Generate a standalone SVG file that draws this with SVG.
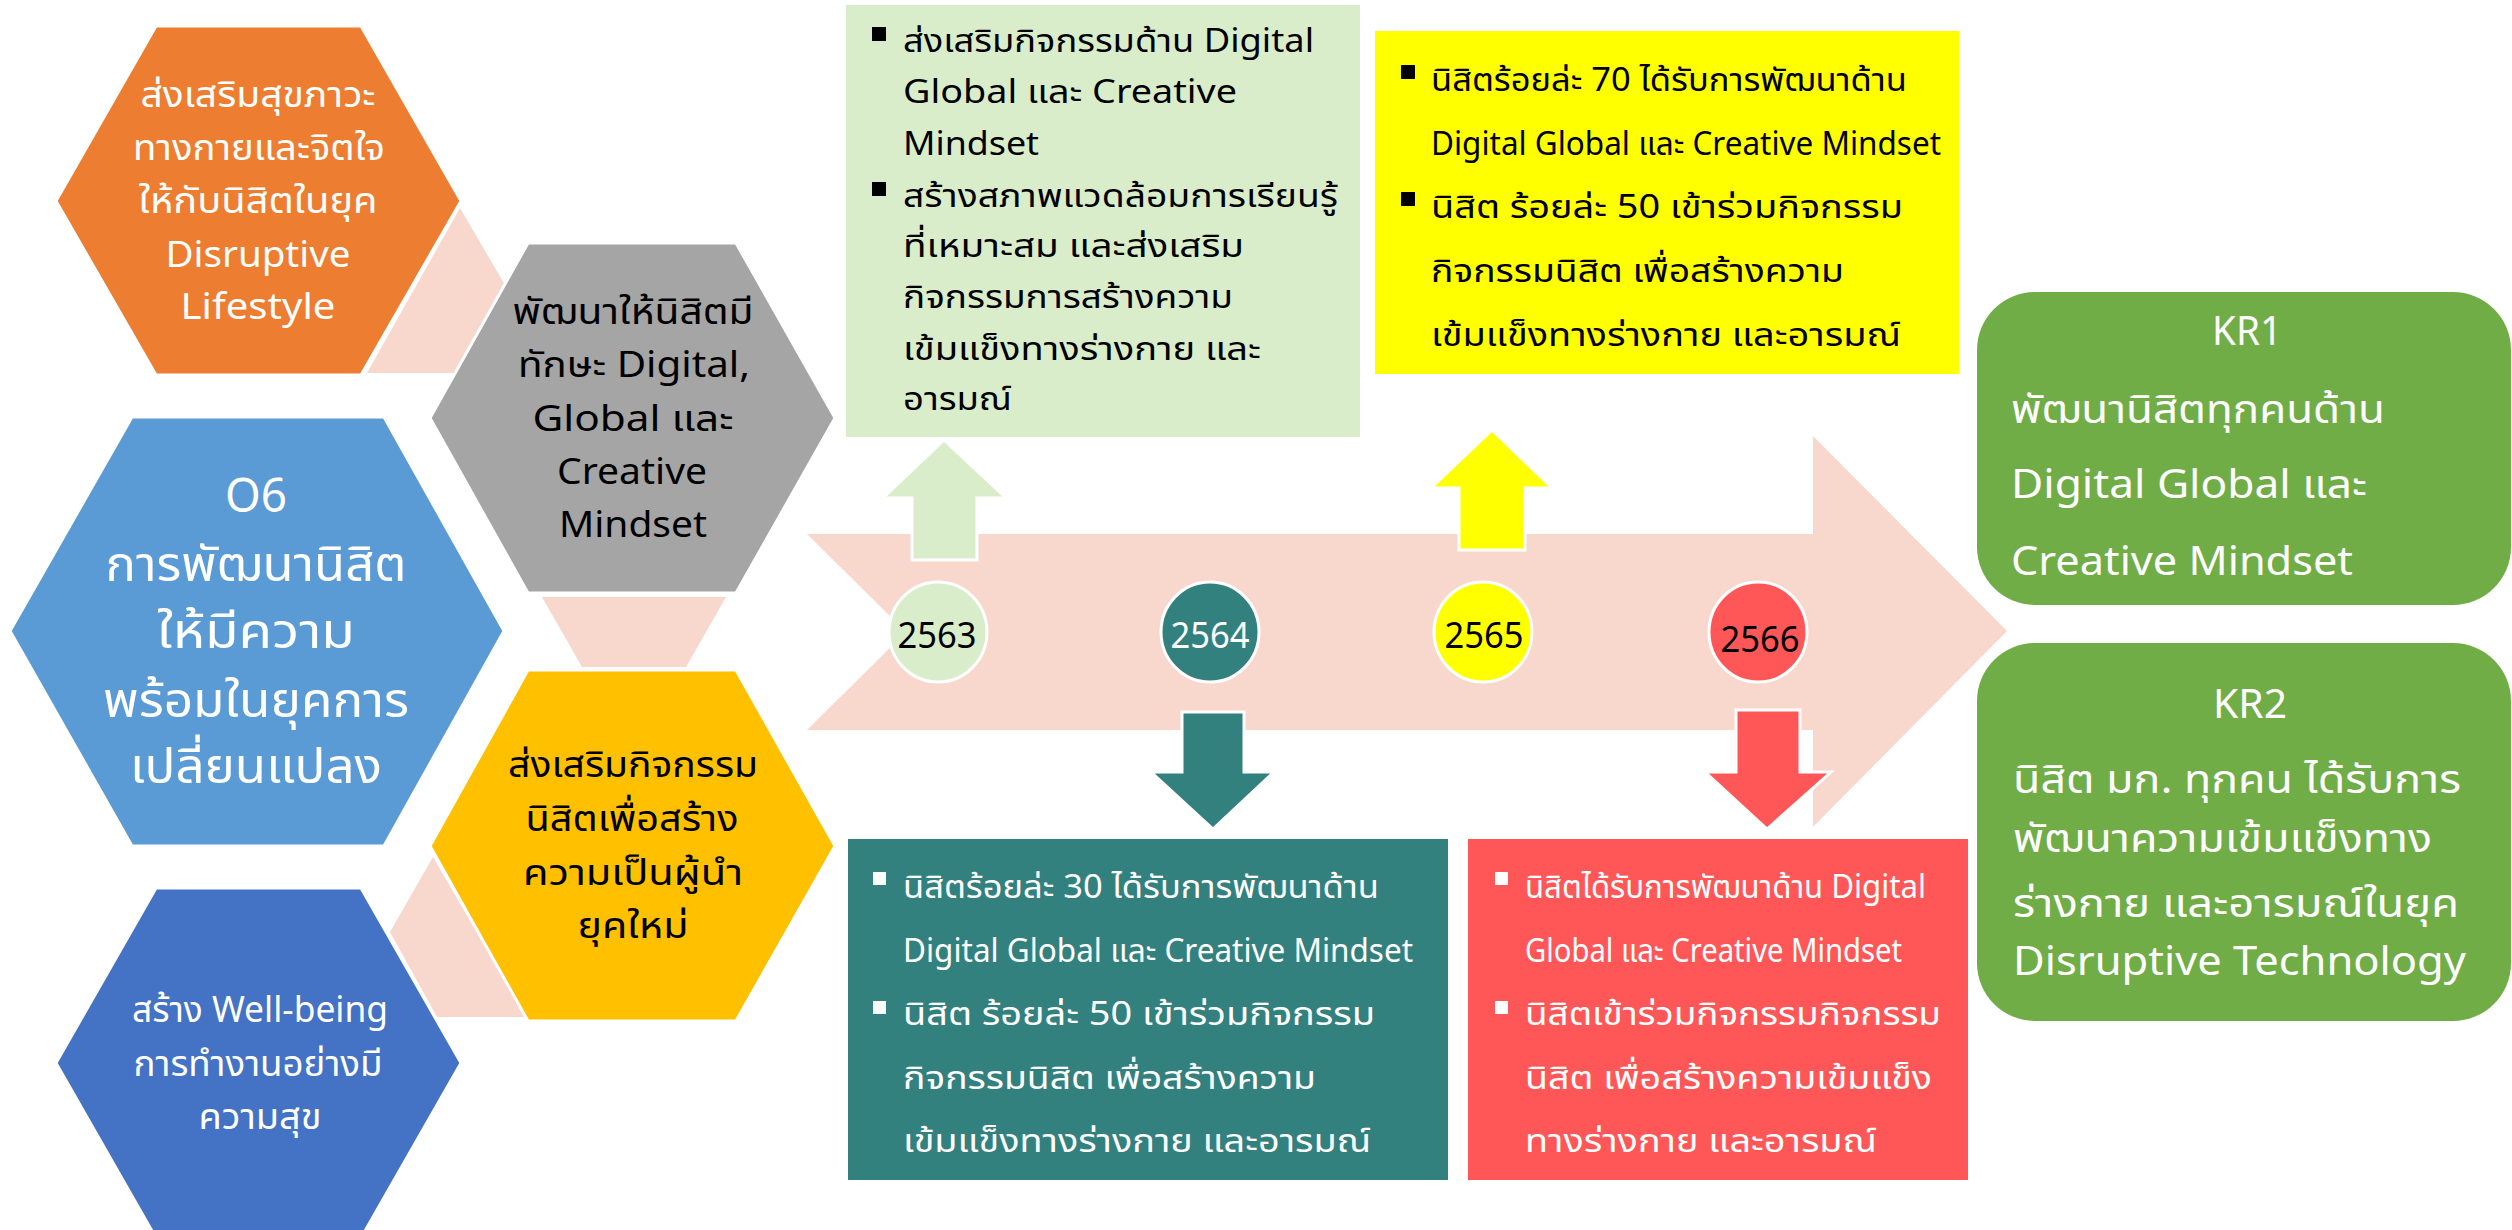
<svg xmlns="http://www.w3.org/2000/svg" width="2512" height="1230" viewBox="0 0 2512 1230">
<style>
text{font-family:"Noto Sans Thai","Noto Sans","DejaVu Sans",sans-serif;}
.hex{stroke:#fff;stroke-width:3;}
.pink{fill:#F8D7CD;}
.w{fill:#fff;}
.k{fill:#000;}
.c{text-anchor:middle;}
.h36{font-size:36px;}
.h48{font-size:48px;}
.b32{font-size:32px;}
.kr{font-size:40px;fill:#fff;}
.arr{stroke:#fff;stroke-width:3;}
.circ{stroke:#fff;stroke-width:3;}
</style>
<rect width="2512" height="1230" fill="#fff"/>

<g id="connectors">
  <polygon class="pink" points="460,208 512,297 458,373 367,373"/>
  <polygon class="pink" points="542,597 726,597 686,667 582,667"/>
  <polygon class="pink" points="433,857 390,932 437,1017 526,1017"/>
  <polygon id="timeline-arrow" class="pink" points="807,534 1813,534 1813,436 2007,631 1813,827 1813,730 807,730 906,632"/>
</g>

<g id="hex-orange">
  <polygon class="hex" fill="#ED7D31" points="156,26 361,26 461,201 361,375 156,375 56,201"/>
  <text class="w c h36" x="258" y="107" textLength="235" lengthAdjust="spacingAndGlyphs">ส่งเสริมสุขภาวะ</text>
  <text class="w c h36" x="259" y="160" textLength="252" lengthAdjust="spacingAndGlyphs">ทางกายและจิตใจ</text>
  <text class="w c h36" x="258" y="213" textLength="239" lengthAdjust="spacingAndGlyphs">ให้กับนิสิตในยุค</text>
  <text class="w c h36" x="258" y="267" textLength="185" lengthAdjust="spacingAndGlyphs">Disruptive</text>
  <text class="w c h36" x="258" y="319" textLength="155" lengthAdjust="spacingAndGlyphs">Lifestyle</text>
</g>

<g id="hex-gray">
  <polygon class="hex" fill="#A5A5A5" points="528,243 736,243 835,418 736,593 528,593 430,418"/>
  <text class="k c h36" x="633" y="324" textLength="241" lengthAdjust="spacingAndGlyphs">พัฒนาให้นิสิตมี</text>
  <text class="k c h36" x="634" y="377" textLength="232" lengthAdjust="spacingAndGlyphs">ทักษะ Digital,</text>
  <text class="k c h36" x="633" y="431" textLength="201" lengthAdjust="spacingAndGlyphs">Global และ</text>
  <text class="k c h36" x="632" y="484" textLength="150" lengthAdjust="spacingAndGlyphs">Creative</text>
  <text class="k c h36" x="633" y="537" textLength="148" lengthAdjust="spacingAndGlyphs">Mindset</text>
</g>

<g id="hex-o6">
  <polygon class="hex" fill="#5B9BD5" points="132,417 384,417 504,631 384,846 132,846 10,631"/>
  <text class="w c h48" x="256" y="512" textLength="62" lengthAdjust="spacingAndGlyphs">O6</text>
  <text class="w c h48" x="256" y="581" textLength="301" lengthAdjust="spacingAndGlyphs">การพัฒนานิสิต</text>
  <text class="w c h48" x="256" y="648" textLength="198" lengthAdjust="spacingAndGlyphs">ให้มีความ</text>
  <text class="w c h48" x="256" y="717" textLength="306" lengthAdjust="spacingAndGlyphs">พร้อมในยุคการ</text>
  <text class="w c h48" x="256" y="783" textLength="252" lengthAdjust="spacingAndGlyphs">เปลี่ยนแปลง</text>
</g>

<g id="hex-gold">
  <polygon class="hex" fill="#FFC000" points="528,670 736,670 835,846 736,1021 528,1021 430,846"/>
  <text class="k c h36" x="633" y="777" textLength="250" lengthAdjust="spacingAndGlyphs">ส่งเสริมกิจกรรม</text>
  <text class="k c h36" x="632" y="831" textLength="213" lengthAdjust="spacingAndGlyphs">นิสิตเพื่อสร้าง</text>
  <text class="k c h36" x="633" y="885" textLength="220" lengthAdjust="spacingAndGlyphs">ความเป็นผู้นำ</text>
  <text class="k c h36" x="633" y="938" textLength="111" lengthAdjust="spacingAndGlyphs">ยุคใหม่</text>
</g>

<g id="hex-wellbeing">
  <polygon class="hex" fill="#4472C4" points="156,888 361,888 461,1063 361,1238 156,1238 56,1063"/>
  <text class="w c h36" x="260" y="1022" textLength="256" lengthAdjust="spacingAndGlyphs">สร้าง Well-being</text>
  <text class="w c h36" x="258" y="1076" textLength="249" lengthAdjust="spacingAndGlyphs">การทำงานอย่างมี</text>
  <text class="w c h36" x="260" y="1129" textLength="123" lengthAdjust="spacingAndGlyphs">ความสุข</text>
</g>

<g id="box-2563">
  <rect x="846" y="5" width="514" height="432" fill="#DAEDCA"/>
  <rect x="872" y="27" width="14" height="14" fill="#000"/>
  <rect x="872" y="182" width="14" height="14" fill="#000"/>
  <text class="k b32" x="903" y="52" textLength="411" lengthAdjust="spacingAndGlyphs">ส่งเสริมกิจกรรมด้าน Digital</text>
  <text class="k b32" x="903" y="103" textLength="334" lengthAdjust="spacingAndGlyphs">Global และ Creative</text>
  <text class="k b32" x="903" y="155" textLength="136" lengthAdjust="spacingAndGlyphs">Mindset</text>
  <text class="k b32" x="903" y="207" textLength="435" lengthAdjust="spacingAndGlyphs">สร้างสภาพแวดล้อมการเรียนรู้</text>
  <text class="k b32" x="903" y="257" textLength="341" lengthAdjust="spacingAndGlyphs">ที่เหมาะสม และส่งเสริม</text>
  <text class="k b32" x="903" y="308" textLength="330" lengthAdjust="spacingAndGlyphs">กิจกรรมการสร้างความ</text>
  <text class="k b32" x="903" y="360" textLength="358" lengthAdjust="spacingAndGlyphs">เข้มแข็งทางร่างกาย และ</text>
  <text class="k b32" x="903" y="410" textLength="109" lengthAdjust="spacingAndGlyphs">อารมณ์</text>
</g>

<g id="box-2565">
  <rect x="1375" y="31" width="584" height="343" fill="#FFFF00"/>
  <rect x="1401" y="65" width="14" height="14" fill="#000"/>
  <rect x="1401" y="192" width="14" height="14" fill="#000"/>
  <text class="k b32" x="1431" y="91" textLength="476" lengthAdjust="spacingAndGlyphs">นิสิตร้อยล่ะ 70 ได้รับการพัฒนาด้าน</text>
  <text class="k b32" x="1431" y="155" textLength="510" lengthAdjust="spacingAndGlyphs">Digital Global และ Creative Mindset</text>
  <text class="k b32" x="1431" y="218" textLength="472" lengthAdjust="spacingAndGlyphs">นิสิต ร้อยล่ะ 50 เข้าร่วมกิจกรรม</text>
  <text class="k b32" x="1431" y="282" textLength="413" lengthAdjust="spacingAndGlyphs">กิจกรรมนิสิต เพื่อสร้างความ</text>
  <text class="k b32" x="1431" y="346" textLength="470" lengthAdjust="spacingAndGlyphs">เข้มแข็งทางร่างกาย และอารมณ์</text>
</g>

<g id="box-2564">
  <rect x="848" y="839" width="600" height="341" fill="#33817F"/>
  <rect x="873" y="872" width="13" height="13" fill="#fff"/>
  <rect x="873" y="1001" width="13" height="13" fill="#fff"/>
  <text class="w b32" x="903" y="898" textLength="476" lengthAdjust="spacingAndGlyphs">นิสิตร้อยล่ะ 30 ได้รับการพัฒนาด้าน</text>
  <text class="w b32" x="903" y="962" textLength="510" lengthAdjust="spacingAndGlyphs">Digital Global และ Creative Mindset</text>
  <text class="w b32" x="903" y="1025" textLength="472" lengthAdjust="spacingAndGlyphs">นิสิต ร้อยล่ะ 50 เข้าร่วมกิจกรรม</text>
  <text class="w b32" x="903" y="1089" textLength="413" lengthAdjust="spacingAndGlyphs">กิจกรรมนิสิต เพื่อสร้างความ</text>
  <text class="w b32" x="903" y="1152" textLength="468" lengthAdjust="spacingAndGlyphs">เข้มแข็งทางร่างกาย และอารมณ์</text>
</g>

<g id="box-2566">
  <rect x="1468" y="839" width="500" height="341" fill="#FF5757"/>
  <rect x="1495" y="872" width="13" height="13" fill="#fff"/>
  <rect x="1495" y="1001" width="13" height="13" fill="#fff"/>
  <text class="w b32" x="1525" y="898" textLength="401" lengthAdjust="spacingAndGlyphs">นิสิตได้รับการพัฒนาด้าน Digital</text>
  <text class="w b32" x="1525" y="962" textLength="377" lengthAdjust="spacingAndGlyphs">Global และ Creative Mindset</text>
  <text class="w b32" x="1525" y="1025" textLength="416" lengthAdjust="spacingAndGlyphs">นิสิตเข้าร่วมกิจกรรมกิจกรรม</text>
  <text class="w b32" x="1525" y="1089" textLength="407" lengthAdjust="spacingAndGlyphs">นิสิต เพื่อสร้างความเข้มแข็ง</text>
  <text class="w b32" x="1525" y="1152" textLength="352" lengthAdjust="spacingAndGlyphs">ทางร่างกาย และอารมณ์</text>
</g>

<g id="arrows">
  <polygon class="arr" fill="#DAEDCA" points="944,440 1006,498 977,498 977,560 912,560 912,498 883,498"/>
  <polygon class="arr" fill="#FFFF00" points="1492,430 1552,488 1525,488 1525,550 1459,550 1459,488 1431,488"/>
  <polygon class="arr" fill="#33817F" points="1182,712 1244,712 1244,772 1274,772 1213,829 1151,772 1182,772"/>
  <polygon class="arr" fill="#FF5757" points="1736,710 1800,710 1800,772 1831,772 1767,829 1705,772 1736,772"/>
</g>

<g id="year-2563">
  <ellipse class="circ" cx="938" cy="632" rx="49" ry="50" fill="#DAEDCA"/>
  <text class="k c" x="937" y="648" font-size="36" textLength="79" lengthAdjust="spacingAndGlyphs">2563</text>
</g>
<g id="year-2564">
  <ellipse class="circ" cx="1210" cy="632" rx="49" ry="50" fill="#33817F"/>
  <text class="w c" x="1210" y="648" font-size="36" textLength="79" lengthAdjust="spacingAndGlyphs">2564</text>
</g>
<g id="year-2565">
  <ellipse class="circ" cx="1483" cy="632" rx="49" ry="50" fill="#FFFF00"/>
  <text class="k c" x="1484" y="648" font-size="36" textLength="79" lengthAdjust="spacingAndGlyphs">2565</text>
</g>
<g id="year-2566">
  <ellipse class="circ" cx="1758" cy="632" rx="49" ry="50" fill="#FF5757"/>
  <text class="k c" x="1760" y="652" font-size="36" textLength="79" lengthAdjust="spacingAndGlyphs">2566</text>
</g>

<g id="kr1">
  <rect x="1977" y="292" width="534" height="313" rx="58" ry="58" fill="#70AD47"/>
  <text class="kr c" x="2247" y="345" textLength="70" lengthAdjust="spacingAndGlyphs">KR1</text>
  <text class="kr" x="2011" y="423" textLength="374" lengthAdjust="spacingAndGlyphs">พัฒนานิสิตทุกคนด้าน</text>
  <text class="kr" x="2011" y="498" textLength="356" lengthAdjust="spacingAndGlyphs">Digital Global และ</text>
  <text class="kr" x="2011" y="575" textLength="342" lengthAdjust="spacingAndGlyphs">Creative Mindset</text>
</g>

<g id="kr2">
  <rect x="1977" y="643" width="534" height="378" rx="58" ry="58" fill="#70AD47"/>
  <text class="kr c" x="2250" y="718" textLength="74" lengthAdjust="spacingAndGlyphs">KR2</text>
  <text class="kr" x="2013" y="793" textLength="448" lengthAdjust="spacingAndGlyphs">นิสิต มก. ทุกคน ได้รับการ</text>
  <text class="kr" x="2013" y="852" textLength="419" lengthAdjust="spacingAndGlyphs">พัฒนาความเข้มแข็งทาง</text>
  <text class="kr" x="2013" y="917" textLength="446" lengthAdjust="spacingAndGlyphs">ร่างกาย และอารมณ์ในยุค</text>
  <text class="kr" x="2013" y="975" textLength="453" lengthAdjust="spacingAndGlyphs">Disruptive Technology</text>
</g>
</svg>
